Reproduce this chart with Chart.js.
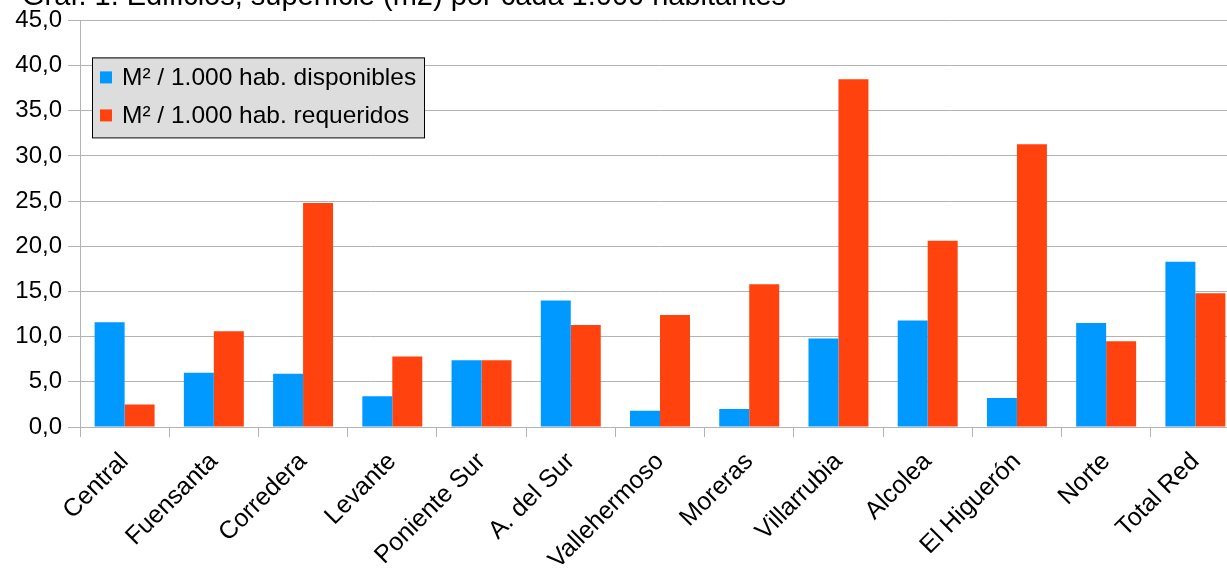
<!DOCTYPE html>
<html>
<head>
<meta charset="utf-8">
<script src="https://cdn.jsdelivr.net/npm/chart.js@4/dist/chart.umd.min.js"></script>
<style>
  html, body { margin:0; padding:0; background:#fff; overflow:hidden; }
  #wrap { width:1245px; height:569px; }
</style>
</head>
<body>
<div id="wrap"><canvas id="c" width="1245" height="569"></canvas></div>
<script>
// Données
const titulo = 'Graf. 1. Edificios, superficie (m2) por cada 1.000 habitantes';
const distritos = ['Central','Fuensanta','Corredera','Levante','Poniente Sur','A. del Sur',
  'Vallehermoso','Moreras','Villarrubia','Alcolea','El Higuerón','Norte','Total Red'];
const disponibles = [11.6, 6.0, 5.9, 3.4, 7.4, 14.0, 1.8, 2.0, 9.8, 11.8, 3.2, 11.5, 18.3];
const requeridos  = [2.5, 10.6, 24.8, 7.8, 7.4, 11.3, 12.4, 15.8, 38.5, 20.6, 31.3, 9.5, 14.8];
const yTicks = [0, 5, 10, 15, 20, 25, 30, 35, 40, 45];

const FONT = '"Liberation Sans", Arial, sans-serif';
const fmt = v => v.toFixed(1).replace('.', ',');

// Titre coupé en haut, comme sur l'original
const titlePlugin = { id:'titleTop', afterDraw(chart) {
  const { ctx } = chart;
  ctx.save();
  ctx.fillStyle = '#000';
  ctx.font = '29px ' + FONT;
  ctx.textAlign = 'left'; ctx.textBaseline = 'alphabetic';
  ctx.fillText(titulo, 22, 5);
  ctx.restore();
}};

// Légende encadrée, posée dans la zone du graphe
const boxLegend = { id:'boxLegend', afterDraw(chart) {
  const { ctx, chartArea } = chart;
  const x = chartArea.left + 12, y = chartArea.top + 37, w = 332, h = 80;
  ctx.save();
  ctx.fillStyle = '#dddddd';
  ctx.fillRect(x, y, w, h);
  ctx.strokeStyle = '#000'; ctx.lineWidth = 1;
  ctx.strokeRect(x + 0.5, y + 0.5, w, h);
  ctx.font = '24.5px ' + FONT;
  ctx.textBaseline = 'middle'; ctx.textAlign = 'left';
  chart.data.datasets.forEach((ds, i) => {
    const cy = y + 20 + i * 38;
    ctx.fillStyle = ds.backgroundColor;
    ctx.fillRect(x + 8, cy - 6, 12, 12);
    ctx.fillStyle = '#000';
    ctx.fillText(ds.label, x + 30, cy + 1);
  });
  ctx.restore();
}};

new Chart(document.getElementById('c').getContext('2d'), {
  type: 'bar',
  data: {
    labels: distritos,
    datasets: [
      { label: 'M² / 1.000 hab. disponibles', data: disponibles, backgroundColor: '#0099ff',
        categoryPercentage: 0.672, barPercentage: 1.0 },
      { label: 'M² / 1.000 hab. requeridos', data: requeridos, backgroundColor: '#ff420e',
        categoryPercentage: 0.672, barPercentage: 1.0 }
    ]
  },
  options: {
    responsive: false,
    animation: false,
    layout: { padding: { left: 0, right: 5, top: 20, bottom: 0 } },
    plugins: { legend: { display: false }, tooltip: { enabled: false } },
    scales: {
      x: {
        grid: { display: true, offset: true, drawOnChartArea: false, color: '#b3b3b3', tickLength: 10 },
        border: { color: '#b3b3b3', width: 1 },
        ticks: { color: '#000', font: { size: 25, family: FONT }, maxRotation: 45, minRotation: 45, padding: 10 },
        afterFit: s => { s.height = 142; }
      },
      y: {
        min: 0, max: 45,
        afterBuildTicks: s => { s.ticks = yTicks.map(v => ({ value: v })); },
        grid: { color: '#b3b3b3', tickLength: 12 },
        border: { color: '#b3b3b3', width: 1 },
        ticks: { color: '#000', font: { size: 24, family: FONT }, padding: 6, callback: v => fmt(v) },
        afterFit: s => { s.width = 80; }
      }
    }
  },
  plugins: [ titlePlugin, boxLegend ]
});
</script>
</body>
</html>
